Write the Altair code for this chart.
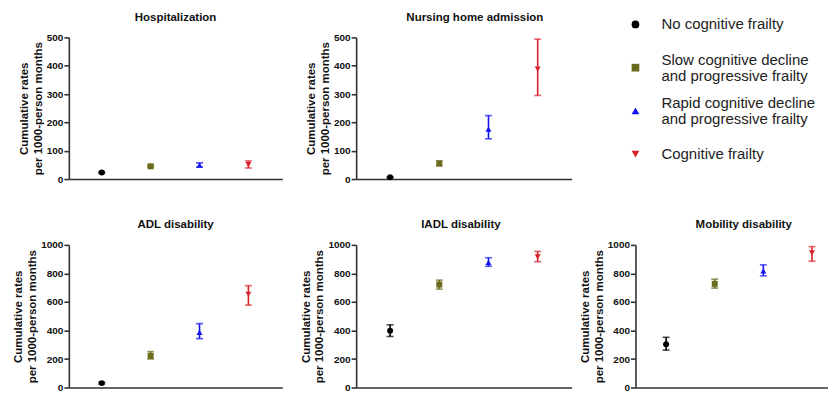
import altair as alt
import pandas as pd

# ---- data ----
groups = [
    "No cognitive frailty",
    "Slow cognitive decline and progressive frailty",
    "Rapid cognitive decline and progressive frailty",
    "Cognitive frailty",
]
legend_labels = [
    "No cognitive frailty",
    "Slow cognitive decline\nand progressive frailty",
    "Rapid cognitive decline\nand progressive frailty",
    "Cognitive frailty",
]
group_index = [1, 2, 3, 4]

hosp_rate = [23, 45, 49, 51]
hosp_lo = [20, 42, 42, 39]
hosp_hi = [26, 49, 57, 64]

nursing_rate = [6, 55, 176, 388]
nursing_lo = [4, 47, 142, 295]
nursing_hi = [8, 64, 224, 494]

adl_rate = [31, 222, 387, 654]
adl_lo = [25, 200, 343, 578]
adl_hi = [37, 252, 448, 714]

iadl_rate = [398, 722, 877, 916]
iadl_lo = [358, 690, 850, 882]
iadl_hi = [440, 753, 910, 954]

mob_rate = [303, 727, 818, 944]
mob_lo = [262, 697, 783, 886]
mob_hi = [352, 760, 860, 988]

ticks_500 = [0, 100, 200, 300, 400, 500]
ticks_1000 = [0, 200, 400, 600, 800, 1000]

colors = ["#000000", "#6a6b1c", "#1414f5", "#d8222a"]
shapes = ["circle", "square", "triangle-up", "triangle-down"]

FONT = "Liberation Sans"
color_scale = alt.Scale(domain=groups, range=colors)
shape_scale = alt.Scale(domain=groups, range=shapes)


def panel(title, rate, lo, hi, ymax, yticks, xdom, width, height, title_dx):
    df = pd.DataFrame({"idx": group_index, "group": groups, "rate": rate, "lo": lo, "hi": hi})
    yaxis = alt.Axis(
        values=yticks,
        format="d",
        title=["Cumulative rates", "per 1000-person months"],
        grid=False,
    )
    yscale = alt.Scale(domain=[0, ymax], nice=False)

    def ych(field):
        return alt.Y(f"{field}:Q", scale=yscale, axis=yaxis)

    base = alt.Chart(df).encode(
        x=alt.X(
            "idx:Q",
            scale=alt.Scale(domain=xdom, nice=False, zero=False),
            axis=alt.Axis(labels=False, ticks=False, title=None, grid=False),
        ),
        color=alt.Color("group:N", scale=color_scale, legend=None),
    )
    rule = base.mark_rule(strokeWidth=1.6).encode(y=ych("lo"), y2="hi:Q")
    cap_lo = base.mark_tick(orient="horizontal", size=7, thickness=1.6).encode(y=ych("lo"))
    cap_hi = base.mark_tick(orient="horizontal", size=7, thickness=1.6).encode(y=ych("hi"))
    pts = base.mark_point(filled=True, opacity=1, size=36).encode(
        y=ych("rate"),
        shape=alt.Shape("group:N", scale=shape_scale, legend=None),
    )
    return alt.layer(rule, cap_lo, cap_hi, pts).properties(
        width=width,
        height=height,
        title=alt.TitleParams(title, dx=title_dx, frame="group"),
    )


hosp = panel("Hospitalization", hosp_rate, hosp_lo, hosp_hi, 500, ticks_500,
             [0.327, 4.694], 214, 142, 0)
nursing = panel("Nursing home admission", nursing_rate, nursing_lo, nursing_hi, 500, ticks_500,
                [0.31, 4.69], 216, 142, 11)
adl = panel("ADL disability", adl_rate, adl_lo, adl_hi, 1000, ticks_1000,
            [0.327, 4.694], 214, 143, 0)
iadl = panel("IADL disability", iadl_rate, iadl_lo, iadl_hi, 1000, ticks_1000,
             [0.31, 4.69], 216, 143, -3)
mob = panel("Mobility disability", mob_rate, mob_lo, mob_hi, 1000, ticks_1000,
            [0.37, 4.33], 193, 143, 12)

# ---- legend panel ----
leg_df = pd.DataFrame({"group": groups, "label": legend_labels})
leg_df["lines"] = leg_df["label"].str.count("\n") + 1
leg_y = alt.Y("group:N", axis=None,
              scale=alt.Scale(type="point", domain=groups, range=[-13, 117], padding=0))
leg_pts = alt.Chart(leg_df).mark_point(filled=True, opacity=1, size=60).encode(
    x=alt.value(0),
    y=leg_y,
    color=alt.Color("group:N", scale=color_scale, legend=None),
    shape=alt.Shape("group:N", scale=shape_scale, legend=None),
)
txt_style = dict(align="left", baseline="middle", fontSize=15, lineHeight=16.5,
                 font=FONT, color="#222222", lineBreak="\n")
leg_txt1 = alt.Chart(leg_df[leg_df["lines"] == 1]).mark_text(**txt_style).encode(
    x=alt.value(26), y=leg_y, text="label:N")
leg_txt2 = alt.Chart(leg_df[leg_df["lines"] == 2]).mark_text(dy=-8, **txt_style).encode(
    x=alt.value(26), y=leg_y, text="label:N")
legend = alt.layer(leg_pts, leg_txt1, leg_txt2).properties(width=193, height=142)

col1 = alt.vconcat(hosp, adl, spacing=35)
col2 = alt.vconcat(nursing, iadl, spacing=35)
col3 = alt.vconcat(legend, mob, spacing=40)
inner = alt.hconcat(col1, col2, spacing=17)
chart = alt.hconcat(inner, col3, spacing=7).properties(
    padding={"left": 4, "top": 3, "right": 0, "bottom": 0}
).configure_view(stroke=None).configure_axis(
    domainColor="#333333",
    domainWidth=1.6,
    tickColor="#333333",
    tickWidth=1.6,
    tickSize=5,
    labelFont=FONT,
    labelFontSize=10,
    labelFontWeight="bold",
    labelColor="#111111",
    labelPadding=1,
    titleFont=FONT,
    titleFontSize=11.5,
    titleFontWeight="bold",
    titleColor="#111111",
    titlePadding=3,
    titleLineHeight=14,
).configure_title(
    font=FONT,
    fontSize=11.5,
    fontWeight="bold",
    color="#111111",
    anchor="middle",
    offset=9,
)

chart.save("out.html", embed_options={"renderer": "svg", "actions": False})
